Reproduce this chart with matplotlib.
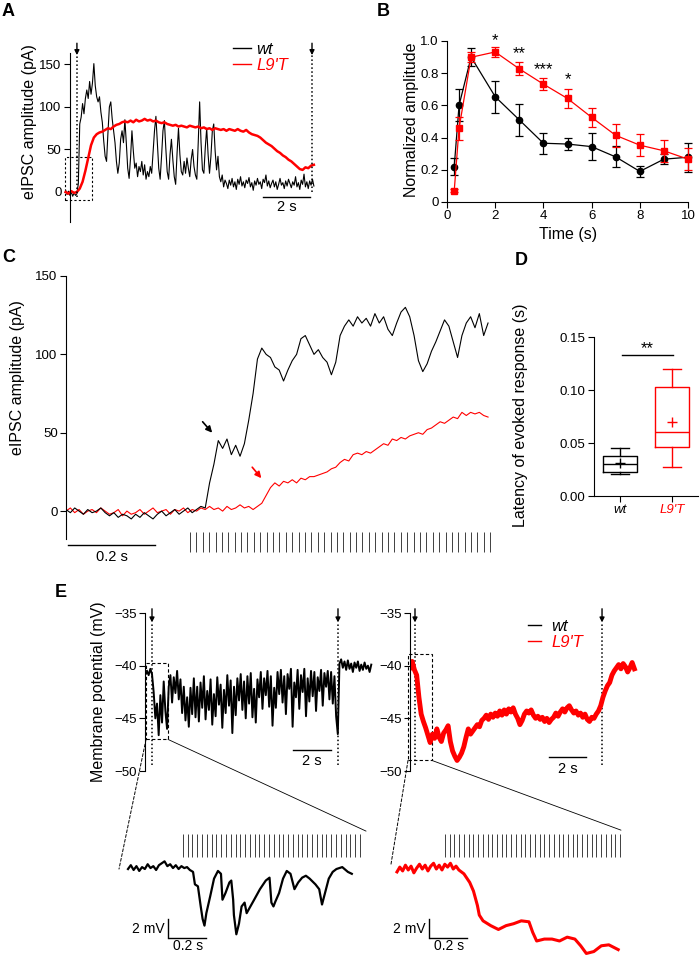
import numpy as np
import matplotlib
matplotlib.use('Agg')
import matplotlib.pyplot as plt
from matplotlib.patches import Rectangle, ConnectionPatch

plt.rcParams['font.family'] = ['Liberation Sans', 'DejaVu Sans']
RED = '#ff0000'

# ---------------- data ----------------
# A: whole 10 s train, eIPSC amplitude (pA)
a_dt_wt, a_t0_wt = 0.06, -0.48
a_wt = [2, -3, 1, -4, 0, -5, -1, -4, -2, 10, 80, 88, 104, 92, 110, 120, 110, 130, 115, 128,
        151, 125, 112, 106, 112, 94, 82, 60, 42, 36, 70, 100, 106, 86, 72, 58, 36, 22, 34, 62,
        72, 58, 85, 58, 28, 16, 40, 72, 48, 28, 34, 18, 30, 24, 36, 20, 32, 15, 24, 18,
        30, 22, 48, 72, 89, 58, 28, 15, 42, 72, 84, 52, 24, 15, 44, 62, 38, 18, 9, 46,
        75, 44, 24, 20, 36, 22, 40, 28, 18, 38, 50, 30, 20, 15, 58, 106, 58, 26, 22, 52,
        75, 44, 22, 42, 72, 80, 48, 26, 42, 18, 12, 20, 6, 14,
        10, 4, 14, 8, 16, 6, 12, 3, 15, 9, 18, 7, 12, 5, 14, 10, 17, 6, 11, 2,
        13, 8, 16, 9, 12, 4, 15, 11, 20, 7, 13, 5, 10, 14, 6, 12, 3, 9, 16, 8,
        11, 4, 13, 7, 15, 10, 5, 12, 8, 18, 6, 11, 3, 14, 9, 21, 6, 12, 4, 13, 8, 15, 7]
a_dt_l9, a_t0_l9 = 0.12, -0.48
a_l9 = [0, -2, 1, -1, 0, 4, 12, 25, 40, 55, 64, 68, 70, 71, 73, 75, 74, 77, 79, 80,
        82, 83, 82, 84, 82, 85, 83, 84, 86, 84, 85, 83, 84, 82, 81, 82, 80, 79, 78, 79,
        77, 78, 77, 76, 78, 77, 76, 77, 75, 76, 74, 75, 73, 75, 74, 73, 74, 72, 74, 73,
        72, 74, 72, 71, 73, 70, 68, 67, 66, 64, 61, 58, 56, 54, 51, 48, 46, 43, 41, 38,
        36, 33, 30, 27, 26, 29, 28, 31, 32]

# B: normalized amplitude vs time
b_time = [0.3, 0.5, 1, 2, 3, 4, 5, 6, 7, 8, 9, 10]
b_wt = [0.22, 0.60, 0.90, 0.654, 0.51, 0.365, 0.36, 0.344, 0.28, 0.19, 0.266, 0.278]
b_wt_err = [0.055, 0.10, 0.057, 0.10, 0.10, 0.065, 0.035, 0.085, 0.065, 0.035, 0.03, 0.09]
b_l9 = [0.07, 0.458, 0.899, 0.932, 0.827, 0.732, 0.643, 0.526, 0.414, 0.353, 0.318, 0.266]
b_l9_err = [0.01, 0.07, 0.03, 0.03, 0.04, 0.037, 0.06, 0.06, 0.07, 0.07, 0.068, 0.068]
b_star_x = [2, 3, 4, 5]
b_star_y = [1.0, 0.92, 0.82, 0.76]
b_star_txt = ['*', '**', '***', '*']

# C: first ~1 s of the train
c_dt = 0.01
c_wt = [1, -1, 2, 0, -2, 1, -1, 0, 2, -1, -3, -1, -4, -2, -3, -5, -2, -4, -1, -3,
        -5, -2, 0, -3, -1, 1, -2, 0, 2, -1, 1, 3, 2, 18, 30, 45, 40, 46, 36, 42,
        35, 43, 58, 75, 97, 104, 100, 98, 92, 90, 83, 90, 96, 100, 110, 112, 106, 100, 103, 98,
        95, 87, 95, 112, 118, 122, 118, 124, 120, 123, 118, 126, 120, 124, 116, 112, 120, 127, 130, 124,
        112, 96, 89, 94, 102, 108, 115, 122, 118, 108, 98, 112, 120, 124, 117, 126, 112, 120]
c_l9 = [0, 2, -1, 1, -2, 0, 1, -1, 2, 0, -2, -1, 1, -3, 0, -2, -1, 1, -2, 0,
        2, -1, 0, 1, -2, 1, 0, 2, -1, 1, 0, 2, 1, 3, 1, 2, 0, 3, 1, 2,
        4, 2, 3, 1, 3, 5, 10, 15, 18, 16, 19, 18, 20, 18, 21, 20, 22, 22, 23, 24,
        25, 27, 28, 31, 33, 32, 36, 37, 36, 38, 37, 39, 41, 43, 42, 46, 45, 47, 46, 48,
        49, 50, 49, 52, 53, 55, 57, 56, 58, 60, 59, 63, 61, 63, 62, 63, 61, 60]
c_stim_on, c_stim_off, c_n_stim = 0.285, 0.975, 48

# D: latency of evoked response (s), box stats
d_groups = ['wt', "L9'T"]
d_med = [0.030, 0.060]
d_q1 = [0.0224, 0.046]
d_q3 = [0.0377, 0.103]
d_lo = [0.0208, 0.0277]
d_hi = [0.045, 0.1195]
d_mean = [0.031, 0.0695]

# E: membrane potential (mV)
e_dt_wt, e_t0_wt = 0.09, -0.27
e_wt = [-40.5, -40.9, -40.3, -40.8, -42.5, -45.0, -43.6, -46.6, -42.8, -45.4,
        -41.5, -44.3, -46.0, -42.0, -40.9, -43.5, -41.1, -42.6, -40.5, -43.2,
        -41.3, -44.5, -42.0, -45.2, -43.0, -45.8, -42.1, -44.6, -41.2, -44.9,
        -42.0, -45.3, -41.6, -44.0, -41.0, -45.1, -42.4, -44.2, -41.3, -45.6,
        -42.7, -44.8, -41.1, -43.7, -41.8, -45.9, -42.3, -44.5, -40.9, -43.8,
        -41.4, -46.4, -42.0, -44.7, -41.2, -43.3, -40.8, -44.2, -41.5, -45.0,
        -41.0, -43.6, -40.7, -44.9, -42.2, -45.4, -41.3, -43.0, -40.6, -44.1,
        -41.2, -42.8, -40.5, -43.9, -41.0, -45.7, -42.1, -44.0, -40.6, -42.7,
        -40.4, -43.5, -41.0, -44.6, -40.8, -42.2, -40.3, -45.8, -41.6, -43.0,
        -40.4, -44.1, -40.9, -42.5, -40.3, -44.8, -41.2, -43.4, -40.5, -42.9,
        -40.6, -44.3, -41.1, -42.4, -40.4, -43.8, -40.7, -42.0, -40.5, -43.2,
        -40.6, -43.6, -41.0, -44.8, -46.5, -39.8, -39.4, -40.2, -39.6, -40.4,
        -39.5, -40.3, -39.8, -40.6, -39.7, -40.2, -39.6, -40.5, -39.9, -40.4,
        -39.7, -40.3, -40.0, -40.6, -39.9]
e_dt_l9, e_t0_l9 = 0.12, -0.27
e_l9 = [-40.2, -39.6, -40.4, -40.9, -43.0, -44.6, -45.3, -45.9, -46.6, -47.3,
        -46.5, -46.9, -46.0, -46.8, -47.2, -46.4, -46.1, -45.7, -47.2, -48.1,
        -48.6, -49.0, -48.7, -48.3, -47.7, -46.8, -46.0, -46.5, -46.2, -45.9,
        -45.6, -45.8, -45.2, -45.0, -44.7, -45.1, -44.6, -44.9, -44.5, -44.8,
        -44.3, -44.7, -44.2, -44.6, -44.1, -44.4, -44.0, -44.6, -45.0, -45.6,
        -45.2, -44.6, -44.3, -44.5, -44.2, -44.7, -45.0, -44.8, -45.1, -44.9,
        -45.3, -45.0, -45.4, -45.1, -44.9, -44.5, -44.8, -44.4, -44.1, -44.4,
        -44.0, -43.8, -44.2, -44.5, -44.3, -44.7, -44.5, -44.9, -44.6, -45.1,
        -45.3, -44.9, -45.0, -44.6, -44.3, -43.8, -43.0, -42.4, -41.9, -41.6,
        -40.9, -40.5, -40.2, -39.9, -40.3, -39.8, -40.1, -40.6, -40.2, -39.7, -40.3]

# E insets (first ~1.2 s)
ins_base_dt = 0.015
ins_wt_base = [-40.6, -40.2, -40.7, -40.3, -40.8, -40.4, -40.6, -40.1, -40.5, -40.3, -40.7, -40.2,
               -40.0, -39.8, -40.3, -40.1, -40.5, -40.2, -40.6, -40.3, -40.5, -40.4, -40.7]
ins_wt_t = [0.347, 0.357, 0.373, 0.388, 0.398, 0.408, 0.418, 0.439, 0.459, 0.48, 0.496, 0.504,
            0.52, 0.541, 0.551, 0.561, 0.565, 0.578, 0.592, 0.606, 0.622, 0.633, 0.653, 0.673,
            0.704, 0.735, 0.755, 0.765, 0.776, 0.786, 0.806, 0.827, 0.847, 0.867, 0.888, 0.908,
            0.929, 0.949, 0.969, 1.0, 1.02, 1.035, 1.051, 1.071, 1.092, 1.112, 1.143, 1.173, 1.194]
ins_wt_v = [-40.9, -42.2, -42.4, -44.5, -45.8, -46.5, -45.2, -43.4, -41.6, -40.8, -41.1, -43.8,
            -43.1, -42.0, -41.8, -43.8, -45.4, -47.4, -46.3, -44.5, -44.1, -45.2, -44.5, -43.8,
            -42.7, -41.8, -41.5, -44.1, -44.5, -44.0, -43.1, -41.6, -40.8, -41.1, -42.7, -42.0,
            -41.5, -41.3, -41.6, -42.2, -42.7, -44.3, -43.1, -41.6, -40.9, -40.6, -40.4, -40.9, -41.1]
ins_l9_base = [-40.3, -39.8, -40.2, -39.6, -40.1, -39.7, -40.4, -39.9, -39.5, -40.0, -39.6, -40.2,
               -39.7, -39.4, -40.0, -39.6, -40.1, -39.5, -39.8, -39.4, -40.0, -39.7, -40.1]
ins_l9_t = [0.357, 0.388, 0.408, 0.429, 0.439, 0.459, 0.5, 0.541, 0.582, 0.622, 0.663, 0.704,
            0.724, 0.745, 0.786, 0.827, 0.867, 0.908, 0.949, 0.98, 1.01, 1.05, 1.09, 1.13, 1.18]
ins_l9_v = [-40.5, -41.4, -42.3, -43.8, -44.8, -45.4, -45.9, -46.3, -45.9, -45.7, -45.4, -45.5,
            -46.6, -47.5, -47.3, -47.3, -47.5, -47.1, -47.3, -48.0, -48.8, -48.6, -48.0, -47.9, -48.4]
ins_n_stim = 38

# ---------------- figure ----------------
W, H = 700, 955
fig = plt.figure(figsize=(W / 100, H / 100), dpi=100)


def px_axes(x0, y0, x1, y1):
    return fig.add_axes([x0 / W, 1 - y1 / H, (x1 - x0) / W, (y1 - y0) / H])


def fig_text(x, y, s, **kw):
    fig.text(x / W, 1 - y / H, s, **kw)


def trace_axes(ax, spine_x=None):
    for s in ('top', 'right', 'bottom'):
        ax.spines[s].set_visible(False)
    if spine_x is not None:
        ax.spines['left'].set_position(('data', spine_x))
    ax.set_xticks([])
    ax.tick_params(axis='y', direction='out', length=4, width=0.8, labelsize=9.5, pad=2)
    ax.spines['left'].set_linewidth(0.8)
    ax.patch.set_visible(False)


def stim_arrow(ax, x, y_tip, y_tail):
    ax.annotate('', xy=(x, y_tip), xytext=(x, y_tail), annotation_clip=False,
                arrowprops=dict(arrowstyle='-|>', color='k', lw=1, mutation_scale=7,
                                shrinkA=0, shrinkB=0))


dotted = (0, (1, 1.6))
lab_fs = 11.5

# panel letters
for lt, x, y in [('A', 2, 12), ('B', 377, 12), ('C', 2, 257), ('D', 515, 260), ('E', 55, 592)]:
    fig_text(x, y, lt, fontsize=13, fontweight='bold', ha='left', va='center')

# ---- A ----
axA = px_axes(60, 53, 320, 222)
axA.set_xlim(-0.72, 10.34)
axA.set_ylim(-35.3, 163.5)
trace_axes(axA, spine_x=-0.3)
axA.set_yticks([0, 50, 100, 150])
t_wt = a_t0_wt + a_dt_wt * np.arange(len(a_wt))
t_l9 = a_t0_l9 + a_dt_l9 * np.arange(len(a_l9))
axA.plot(t_wt, a_wt, color='k', lw=0.8, label='wt')
axA.plot(t_l9, a_l9, color=RED, lw=1.8, label="L9'T")
axA.vlines([0, 10], [-6, 0], [161, 161], colors='k', linestyles=dotted, lw=1.1)
for x in (0, 10):
    stim_arrow(axA, x, 161, 175)
axA.add_patch(Rectangle((-0.5, -9.4), 1.14, 50.4, fill=False, ls=(0, (2, 2)), lw=0.8, ec='k',
                        clip_on=False))
axA.plot([7.91, 9.91], [-6, -6], color='k', lw=1, clip_on=False)
axA.text(8.91, -10, '2 s', ha='center', va='top', fontsize=10.5)
legA = axA.legend(frameon=False, loc='upper left', bbox_to_anchor=(233 / W, 1 - 42 / H),
                  bbox_transform=fig.transFigure, handlelength=1.1, handletextpad=0.3,
                  labelspacing=0.05, borderpad=0, borderaxespad=0,
                  prop={'style': 'italic', 'size': 12})
for txt, c in zip(legA.get_texts(), ['k', RED]):
    txt.set_color(c)
for ln in legA.get_lines():
    ln.set_linewidth(1.0)
fig_text(30, 122, 'eIPSC amplitude (pA)', rotation=90, ha='center', va='center', fontsize=lab_fs)

# ---- B ----
axB = px_axes(447, 41, 688, 202)
axB.set_xlim(0, 10)
axB.set_ylim(0, 1)
for s in ('top', 'right'):
    axB.spines[s].set_visible(False)
axB.errorbar(b_time, b_wt, yerr=b_wt_err, fmt='-o', color='k', ms=4.5, lw=0.9, elinewidth=0.9,
             capsize=3, capthick=0.9, clip_on=False, zorder=3)
axB.errorbar(b_time, b_l9, yerr=b_l9_err, fmt='-s', color=RED, ms=4.2, lw=0.9, elinewidth=0.9,
             capsize=3, capthick=0.9, clip_on=False, zorder=4)
for x, y, s in zip(b_star_x, b_star_y, b_star_txt):
    axB.text(x, y, s, ha='center', va='center', fontsize=12, clip_on=False)
axB.set_xticks([0, 2, 4, 6, 8, 10])
axB.set_yticks([0, 0.2, 0.4, 0.6, 0.8, 1.0])
axB.set_yticklabels(['0', '0.2', '0.4', '0.6', '0.8', '1.0'])
axB.tick_params(direction='out', length=4, width=0.8, labelsize=9.5, pad=2)
for s in ('left', 'bottom'):
    axB.spines[s].set_linewidth(0.8)
fig_text(568, 235, 'Time (s)', ha='center', va='center', fontsize=lab_fs)
fig_text(412, 120, 'Normalized amplitude', rotation=90, ha='center', va='center', fontsize=lab_fs)

# ---- C ----
axC = px_axes(66, 276, 495, 539)
axC.set_xlim(0, 0.986)
axC.set_ylim(-17.8, 150)
trace_axes(axC)
axC.set_yticks([0, 50, 100, 150])
tc = c_dt * np.arange(len(c_wt))
axC.plot(tc, c_l9, color=RED, lw=0.8)
axC.plot(tc, c_wt, color='k', lw=0.8)
axC.vlines(np.linspace(c_stim_on, c_stim_off, c_n_stim), -13.4, -26, colors='0.25', lw=0.7,
           clip_on=False)
axC.plot([0.005, 0.205], [-21.7, -21.7], color='k', lw=1, clip_on=False)
axC.text(0.105, -25, '0.2 s', ha='center', va='top', fontsize=10.5)
axC.annotate('', xy=(0.336, 50), xytext=(0.314, 57),
             arrowprops=dict(arrowstyle='-|>', color='k', lw=1.2, mutation_scale=9,
                             shrinkA=0, shrinkB=0))
axC.annotate('', xy=(0.449, 21), xytext=(0.428, 28),
             arrowprops=dict(arrowstyle='-|>', color=RED, lw=1.2, mutation_scale=9,
                             shrinkA=0, shrinkB=0))
fig_text(18, 378, 'eIPSC amplitude (pA)', rotation=90, ha='center', va='center', fontsize=lab_fs)

# ---- D ----
axD = px_axes(594, 337, 698, 496)
axD.set_xlim(0.5, 2.5)
axD.set_ylim(0, 0.15)
for s in ('top', 'right'):
    axD.spines[s].set_visible(False)
for i, c in enumerate(['k', RED]):
    st = [dict(med=d_med[i], q1=d_q1[i], q3=d_q3[i], whislo=d_lo[i], whishi=d_hi[i],
               mean=d_mean[i], label=d_groups[i])]
    lp = dict(color=c, lw=1.0)
    axD.bxp(st, positions=[i + 1], widths=0.67, capwidths=0.36, showmeans=True, showfliers=False,
            boxprops=lp, whiskerprops=lp, capprops=lp, medianprops=lp, manage_ticks=False,
            meanprops=dict(marker='+', markeredgecolor=c, markersize=7, markeredgewidth=1.0))
axD.plot([1.04, 2.02], [0.133, 0.133], color='k', lw=1)
axD.text(1.53, 0.139, '**', ha='center', va='center', fontsize=12)
axD.set_xticks([1, 2])
axD.set_xticklabels(d_groups, fontstyle='italic', fontsize=10.5)
axD.get_xticklabels()[1].set_color(RED)
axD.set_yticks([0, 0.05, 0.10, 0.15])
axD.set_yticklabels(['0.00', '0.05', '0.10', '0.15'])
axD.tick_params(direction='out', length=4, width=0.8, labelsize=9.5, pad=2)
for s in ('left', 'bottom'):
    axD.spines[s].set_linewidth(0.8)
fig_text(520, 415, 'Latency of evoked response (s)', rotation=90, ha='center', va='center',
         fontsize=lab_fs)

# ---- E upper ----
axE1 = px_axes(145, 613, 375, 771)
axE1.set_xlim(-0.376, 11.99)
axE2 = px_axes(410, 613, 640, 771)
axE2.set_xlim(-0.267, 12.03)
for ax in (axE1, axE2):
    ax.set_ylim(-50, -35)
    trace_axes(ax)
    ax.set_yticks([-35, -40, -45, -50])
    ax.vlines([0, 10], -49.4, -35.9, colors='k', linestyles=dotted, lw=1.1)
    for x in (0, 10):
        stim_arrow(ax, x, -35.9, -34.6)
te_wt = e_t0_wt + e_dt_wt * np.arange(len(e_wt))
te_l9 = e_t0_l9 + e_dt_l9 * np.arange(len(e_l9))
axE1.plot(te_wt, e_wt, color='k', lw=1.4)
axE2.plot(te_l9, e_l9, color=RED, lw=3.5, label="L9'T")
axE2.plot([], [], color='k', lw=1.0, label='wt')
axE1.plot([7.58, 9.62], [-48.0, -48.0], color='k', lw=1)
axE1.text(8.6, -48.4, '2 s', ha='center', va='top', fontsize=10.5)
axE2.plot([7.17, 9.14], [-48.7, -48.7], color='k', lw=1)
axE2.text(8.15, -49.1, '2 s', ha='center', va='top', fontsize=10.5, clip_on=False)
h, l = axE2.get_legend_handles_labels()
legE = axE2.legend(h[::-1], l[::-1], frameon=False, loc='upper left',
                   bbox_to_anchor=(528 / W, 1 - 619 / H), bbox_transform=fig.transFigure,
                   handlelength=0.8, handletextpad=0.6, labelspacing=0.05, borderpad=0,
                   borderaxespad=0, prop={'style': 'italic', 'size': 12})
for txt, c in zip(legE.get_texts(), ['k', RED]):
    txt.set_color(c)
for ln in legE.get_lines():
    ln.set_linewidth(1.0)
box1 = (-0.32, 0.86, -47.0, -39.7)
box2 = (-0.374, 0.91, -49.0, -38.9)
for ax, (x0, x1, y0, y1) in ((axE1, box1), (axE2, box2)):
    ax.add_patch(Rectangle((x0, y0), x1 - x0, y1 - y0, fill=False, ls=(0, (3, 2)), lw=0.8,
                           ec='k', clip_on=False))
fig_text(98, 692, 'Membrane potential (mV)', rotation=90, ha='center', va='center', fontsize=lab_fs)

# ---- E insets ----
axI1 = px_axes(110, 822, 370, 955)
axI1.set_xlim(-0.096, 1.291)
axI1.set_ylim(-49.56, -35.7)
axI2 = px_axes(385, 822, 630, 955)
axI2.set_xlim(-0.064, 1.243)
axI2.set_ylim(-48.96, -35.1)
for ax in (axI1, axI2):
    ax.axis('off')
tb_wt = ins_base_dt * np.arange(len(ins_wt_base))
tb_l9 = ins_base_dt * np.arange(len(ins_l9_base))
axI1.plot(np.concatenate([tb_wt, ins_wt_t]), ins_wt_base + ins_wt_v, color='k', lw=1.6)
axI2.plot(np.concatenate([tb_l9, ins_l9_t]), ins_l9_base + ins_l9_v, color=RED, lw=2.2)
axI1.vlines(np.linspace(0.293, 1.237, ins_n_stim), -37.0, -39.3, colors='0.25', lw=0.7)
axI2.vlines(np.linspace(0.256, 1.19, ins_n_stim), -36.4, -38.7, colors='0.25', lw=0.7)
for ax, x0, ybar in ((axI1, 0.213, -47.78), (axI2, 0.171, -47.18)):
    ax.plot([x0, x0], [ybar, ybar + 2], color='k', lw=1)
    ax.plot([x0 + 0.005, x0 + 0.205], [ybar, ybar], color='k', lw=1)
    ax.text(x0 - 0.02, ybar + 0.95, '2 mV', ha='right', va='center', fontsize=10)
    ax.text(x0 + 0.105, ybar - 0.85, '0.2 s', ha='center', va='center', fontsize=10)

for axU, axL, (x0, x1, y0, y1), pL, pR in (
        (axE1, axI1, box1, (-0.048, -40.6), (1.27, -36.65)),
        (axE2, axI2, box2, (-0.032, -39.5), (1.195, -35.95))):
    fig.add_artist(ConnectionPatch(xyA=(x0, y0), coordsA=axU.transData, xyB=pL,
                                   coordsB=axL.transData, ls=(0, (3, 2)), lw=0.7, color='k'))
    fig.add_artist(ConnectionPatch(xyA=(x1, y0), coordsA=axU.transData, xyB=pR,
                                   coordsB=axL.transData, lw=0.6, color='k'))

fig.savefig('out.png', dpi=100)
